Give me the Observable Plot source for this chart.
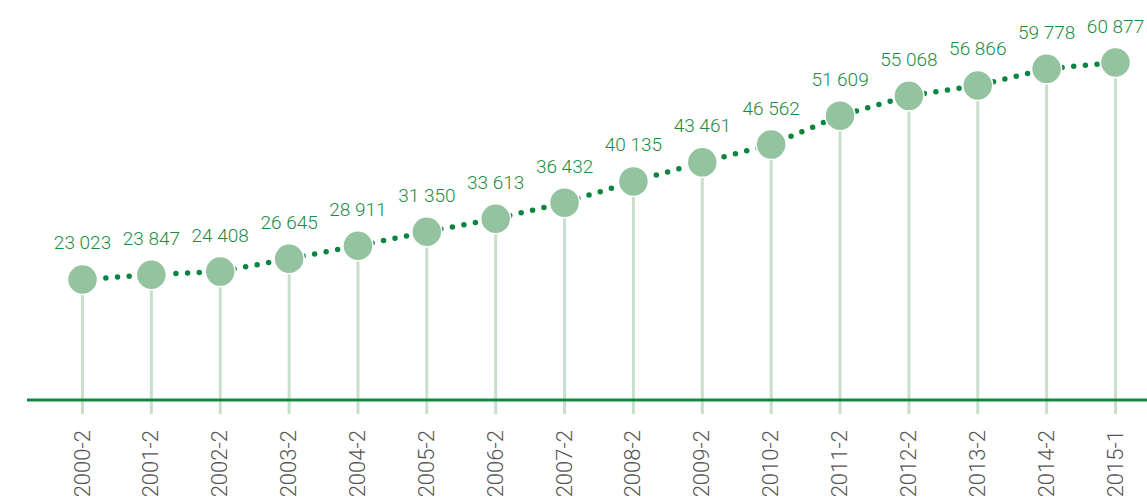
<!DOCTYPE html>
<html>
<head>
<meta charset="utf-8">
<script src="https://cdn.jsdelivr.net/npm/d3@7"></script>
<script src="https://cdn.jsdelivr.net/npm/@observablehq/plot@0.6"></script>
<style>
  html, body { margin: 0; padding: 0; background: #fff; overflow: hidden; }
  #chart svg { display: block; overflow: visible; max-width: none; }
</style>
</head>
<body>
<div id="chart"></div>
<script>
const periods = ["2000-2","2001-2","2002-2","2003-2","2004-2","2005-2","2006-2","2007-2","2008-2","2009-2","2010-2","2011-2","2012-2","2013-2","2014-2","2015-1"];
const values = [23023, 23847, 24408, 26645, 28911, 31350, 33613, 36432, 40135, 43461, 46562, 51609, 55068, 56866, 59778, 60877];
const baseValue = 2000;
const stemEnd = -530;

const data = periods.map((p, i) => ({idx: i, period: p, value: values[i]}));
const fmt = v => d3.format(",")(v).replace(/,/g, " ");

const chart = Plot.plot({
  width: 1147,
  height: 503,
  marginLeft: 27,
  marginRight: 0,
  marginTop: 61.3,
  marginBottom: 103.5,
  style: {fontFamily: "Roboto, sans-serif", background: "#fff"},
  x: {type: "linear", domain: [0, periods.length - 1], range: [82, 1115], axis: null},
  y: {domain: [baseValue, 61000], axis: null},
  marks: [
    Plot.ruleX(data, {x: "idx", y1: "value", y2: stemEnd, stroke: "#c6e0cd", strokeWidth: 3}),
    Plot.ruleY([baseValue], {stroke: "#15873f", strokeWidth: 3}),
    Plot.line(data, {x: "idx", y: "value", stroke: "#0a8540", strokeWidth: 5.5, strokeLinecap: "round", strokeDasharray: "0 11.7"}),
    Plot.dot(data, {x: "idx", y: "value", r: 15, fill: "#93c39f", stroke: "#fff", strokeWidth: 1.5}),
    Plot.text(data, {x: "idx", y: "value", text: d => fmt(d.value), dy: -30, lineAnchor: "bottom", textAnchor: "middle", fill: "#1b8c45", fontSize: 19, fontWeight: 300}),
    Plot.text(data, {x: "idx", text: "period", frameAnchor: "bottom", dy: 30, rotate: -90, textAnchor: "end", lineAnchor: "middle", fill: "#555", fontSize: 22, fontWeight: 300})
  ]
});
document.getElementById("chart").appendChild(chart);
</script>
</body>
</html>
